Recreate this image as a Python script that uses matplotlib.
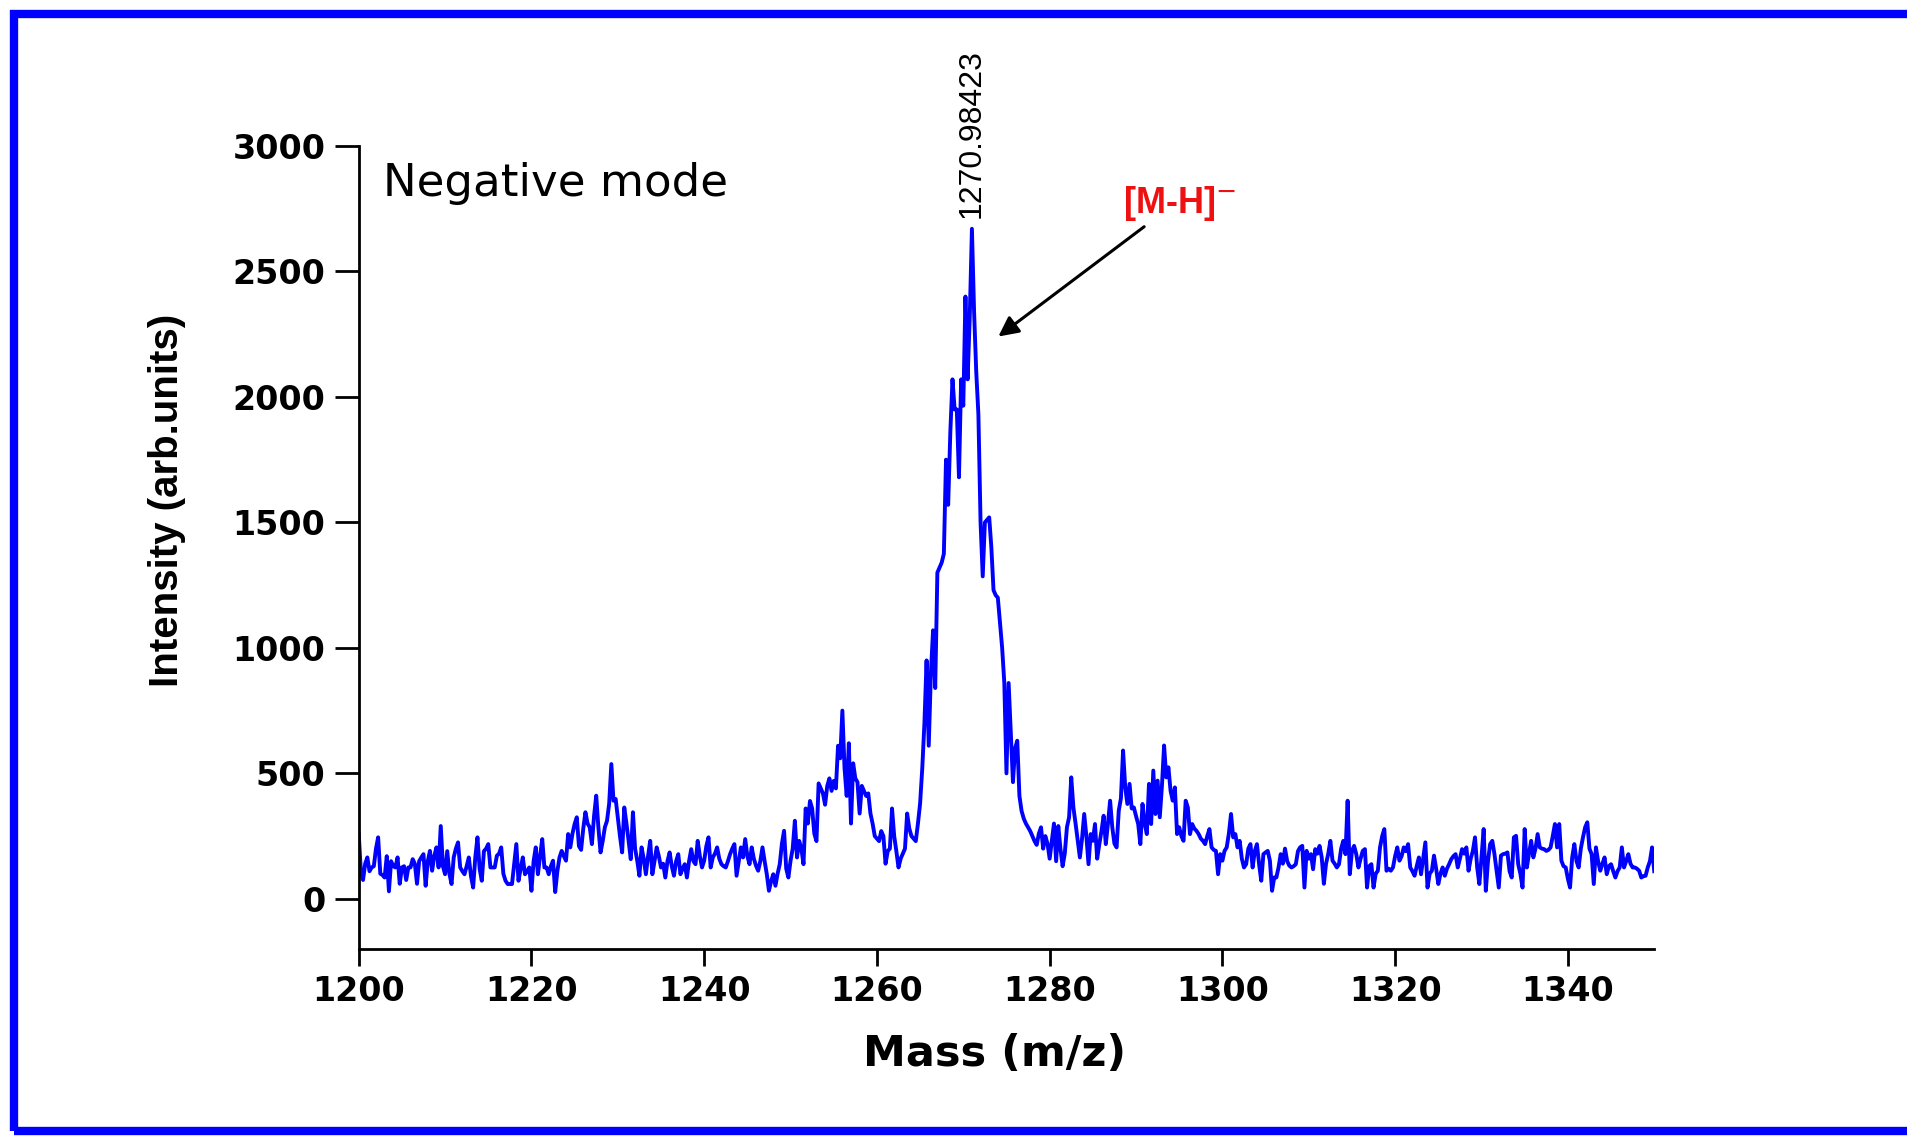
# MALDI spectrum, negative mode, 1200-1350 m/z

import numpy as np
import matplotlib
matplotlib.use('Agg')
import matplotlib.pyplot as plt
from matplotlib.patches import Rectangle

# intensities, 0.25 m/z spacing, split by region
seg_1200_1226 = [260, 110, 75, 140, 165, 110, 125, 130, 200, 245,
                 100, 95, 85, 170, 30, 150, 130, 125, 165, 60,
                 125, 130, 75, 125, 125, 158, 140, 60, 150, 165,
                 178, 52, 150, 191, 112, 170, 205, 125, 290, 130,
                 98, 190, 100, 59, 165, 200, 225, 125, 110, 98,
                 130, 165, 90, 45, 165, 245, 120, 72, 190, 200,
                 218, 125, 125, 125, 172, 180, 205, 100, 72, 59,
                 59, 59, 140, 218, 72, 120, 165, 98, 110, 125,
                 32, 150, 205, 98, 170, 238, 125, 125, 98, 130,
                 152, 27, 110, 165, 191, 170, 152, 258, 205, 260,
                 298, 325, 210, 195, 280]
seg_1226_1252 = [345, 300, 285, 218, 330, 411, 285, 185, 230, 285,
                 311, 380, 537, 391, 398, 325, 250, 185, 364, 300,
                 231, 158, 345, 200, 152, 92, 205, 160, 98, 170,
                 231, 98, 150, 205, 170, 125, 140, 85, 150, 185,
                 130, 92, 150, 178, 98, 120, 138, 85, 150, 198,
                 150, 138, 231, 170, 125, 152, 210, 245, 125, 165,
                 180, 205, 160, 138, 130, 125, 150, 178, 200, 218,
                 92, 150, 205, 165, 238, 170, 138, 205, 160, 132,
                 112, 150, 205, 150, 98, 32, 70, 98, 52, 100,
                 138, 220, 271, 120, 85, 152, 200, 311, 165, 231,
                 200, 138]
seg_1252_1281 = [360, 300, 390, 360, 260, 230, 460, 440, 420, 375,
                 450, 480, 430, 470, 440, 610, 560, 750, 520, 410,
                 620, 300, 540, 480, 465, 340, 450, 430, 410, 420,
                 340, 300, 250, 240, 230, 270, 250, 140, 190, 200,
                 360, 250, 190, 125, 160, 180, 200, 340, 280, 250,
                 240, 230, 300, 380, 520, 700, 950, 610, 900, 1070,
                 840, 1300, 1320, 1340, 1375, 1750, 1570, 1860, 2070, 1950,
                 1950, 1680, 2070, 1965, 2400, 2070, 2320, 2670, 2340, 2100,
                 1930, 1500, 1285, 1500, 1510, 1520, 1400, 1230, 1210, 1200,
                 1100, 1000, 860, 500, 860, 660, 465, 600, 630, 410,
                 350, 320, 300, 285, 270, 250, 230, 215, 260, 285,
                 200, 250, 220, 160, 230, 300]
seg_1281_1307 = [150, 290, 200, 130, 180, 285, 325, 484, 364, 300,
                 231, 165, 240, 338, 250, 138, 258, 231, 298, 160,
                 218, 270, 331, 218, 300, 391, 285, 220, 205, 351,
                 400, 591, 444, 378, 458, 360, 364, 330, 298, 218,
                 378, 300, 258, 458, 298, 511, 338, 471, 325, 450,
                 611, 484, 524, 430, 391, 444, 258, 285, 250, 231,
                 391, 364, 258, 298, 280, 271, 258, 240, 231, 218,
                 250, 278, 205, 195, 191, 98, 178, 152, 191, 205,
                 260, 338, 245, 258, 205, 231, 160, 125, 138, 200,
                 218, 125, 190, 218, 138, 72, 178, 185, 191, 152,
                 32, 85, 85, 125]
seg_1307_1330 = [178, 140, 200, 150, 132, 125, 130, 138, 190, 205,
                 211, 45, 191, 160, 178, 118, 198, 180, 211, 165,
                 60, 140, 178, 231, 152, 140, 125, 138, 200, 231,
                 178, 391, 98, 191, 211, 178, 125, 160, 191, 198,
                 45, 130, 138, 45, 100, 112, 205, 250, 278, 112,
                 120, 112, 125, 170, 205, 152, 170, 205, 190, 218,
                 125, 110, 92, 130, 165, 98, 160, 225, 45, 100,
                 112, 172, 120, 59, 100, 125, 92, 120, 138, 158,
                 170, 178, 125, 160, 198, 180, 205, 112, 160, 191,
                 245, 125]
seg_1330_1350 = [59, 165, 278, 32, 150, 218, 231, 178, 110, 45,
                 172, 178, 180, 185, 110, 85, 245, 251, 138, 100,
                 45, 278, 125, 180, 231, 165, 200, 258, 205, 200,
                 198, 191, 195, 205, 250, 298, 205, 298, 152, 130,
                 125, 80, 45, 165, 218, 150, 125, 200, 245, 285,
                 305, 200, 178, 59, 205, 150, 112, 140, 165, 98,
                 130, 138, 110, 85, 110, 125, 205, 125, 150, 178,
                 140, 125, 125, 120, 112, 85, 90, 92, 125, 150,
                 205, 110]

intensity = np.array(seg_1200_1226 + seg_1226_1252 + seg_1252_1281 +
                     seg_1281_1307 + seg_1307_1330 + seg_1330_1350)
mz = np.linspace(1200, 1350, len(intensity))

peak_label = '1270.98423'
x_ticks = [1200, 1220, 1240, 1260, 1280, 1300, 1320, 1340]
y_ticks = [0, 500, 1000, 1500, 2000, 2500, 3000]

fig = plt.figure(figsize=(19.08, 11.36), dpi=100)
ax = fig.add_axes([0.188, 0.1646, 0.679, 0.7069])

ax.plot(mz, intensity, color='#0000ff', lw=2.8)

ax.set_xlim(1200, 1350)
ax.set_ylim(-200, 3000)
ax.set_xticks(x_ticks)
ax.set_yticks(y_ticks)
for s in ['top', 'right']:
    ax.spines[s].set_visible(False)
for s in ['left', 'bottom']:
    ax.spines[s].set_linewidth(2)
ax.tick_params(axis='y', direction='out', length=17, width=2, pad=7, labelsize=24)
ax.tick_params(axis='x', direction='out', length=12, width=2, pad=7, labelsize=24)
for lab in ax.get_xticklabels() + ax.get_yticklabels():
    lab.set_fontweight('bold')

ax.set_xlabel('Mass (m/z)', fontsize=31, fontweight='bold', va='center')
ax.xaxis.set_label_coords(0.491, -0.131)
ax.set_ylabel('Intensity (arb.units)', fontsize=29, fontweight='bold', va='center',
              family='Liberation Sans')
ax.yaxis.set_label_coords(-0.148, 0.559)

ax.text(1202.8, 2800, 'Negative mode', fontsize=32.5, va='baseline', ha='left')

# peak label above the top
pk = intensity.argmax()
ax.annotate(peak_label, (mz[pk], intensity[pk]), xytext=(0, 8), textcoords='offset points',
            rotation=90, ha='center', va='bottom', fontsize=23, family='Liberation Sans')

ax.annotate('', xy=(1273.8, 2234), xytext=(1291.2, 2685),
            arrowprops=dict(arrowstyle='-|>', color='black', lw=2.2, mutation_scale=30))
ax.text(1295.0, 2772, '[M-H]$^{-}$', color='#ee1111', fontsize=26, fontweight='bold',
        ha='center', va='center', family='Liberation Sans')

# blue frame round the figure (right side runs off the image)
fig.add_artist(Rectangle((0.0071, 0.0044), 1.2, 0.9837, transform=fig.transFigure,
                         fill=False, edgecolor='#0000ff', lw=6, clip_on=False))

fig.savefig('out.png', dpi=100)
